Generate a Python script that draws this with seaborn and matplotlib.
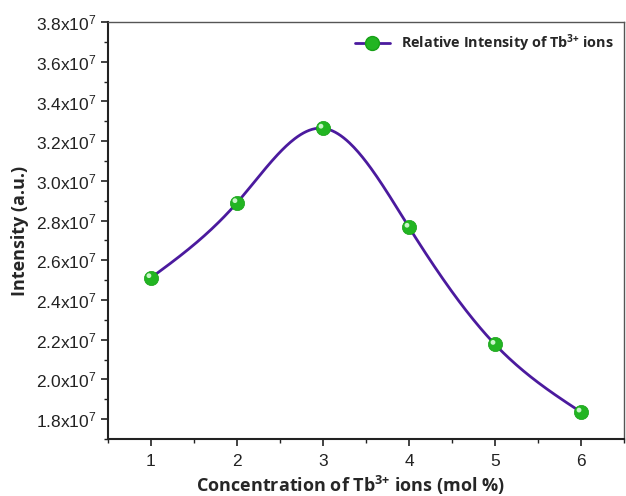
import numpy as np
import pandas as pd
import matplotlib
matplotlib.use("Agg")
import matplotlib.pyplot as plt
import matplotlib.transforms as mtransforms
from matplotlib.lines import Line2D
from matplotlib.ticker import FixedLocator, MultipleLocator, FuncFormatter
import seaborn as sns

# ---- data ----
concentration = [1, 2, 3, 4, 5, 6]
intensity = [2.512e7, 2.890e7, 3.265e7, 2.766e7, 2.176e7, 1.835e7]
y_ticks = [1.8e7, 2.0e7, 2.2e7, 2.4e7, 2.6e7, 2.8e7, 3.0e7, 3.2e7, 3.4e7, 3.6e7, 3.8e7]
x_ticks = [1, 2, 3, 4, 5, 6]
legend_label = "Relative Intensity of Tb$^{3{+}}$ ions"
x_label = "Concentration of Tb$^{3{+}}$ ions (mol %)"
y_label = "Intensity (a.u.)"

LINE_COLOR = "#4b1a9e"
MARKER_COLOR = "#22b522"


def natural_spline(x, y, n=300):
    x = np.asarray(x, float)
    y = np.asarray(y, float)
    m = len(x)
    h = np.diff(x)
    A = np.zeros((m, m))
    b = np.zeros(m)
    A[0, 0] = A[-1, -1] = 1
    for i in range(1, m - 1):
        A[i, i - 1] = h[i - 1]
        A[i, i] = 2 * (h[i - 1] + h[i])
        A[i, i + 1] = h[i]
        b[i] = 3 * ((y[i + 1] - y[i]) / h[i] - (y[i] - y[i - 1]) / h[i - 1])
    c = np.linalg.solve(A, b)
    xs = np.linspace(x[0], x[-1], n)
    ys = np.empty_like(xs)
    for k, xv in enumerate(xs):
        i = min(np.searchsorted(x, xv, side="right") - 1, m - 2)
        bi = (y[i + 1] - y[i]) / h[i] - h[i] * (2 * c[i] + c[i + 1]) / 3
        di = (c[i + 1] - c[i]) / (3 * h[i])
        dx = xv - x[i]
        ys[k] = y[i] + bi * dx + c[i] * dx ** 2 + di * dx ** 3
    return xs, ys


sns.set_theme(style="ticks")
plt.rcParams["font.family"] = ["Liberation Sans", "DejaVu Sans"]
plt.rcParams["mathtext.default"] = "regular"

fig = plt.figure(figsize=(6.26, 4.96), dpi=100)
ax = fig.add_axes([0.1725, 0.115, 0.8245, 0.8405])

xs, ys = natural_spline(concentration, intensity)
curve = pd.DataFrame({"x": xs, "y": ys})
pts = pd.DataFrame({"x": concentration, "y": intensity})

sns.lineplot(data=curve, x="x", y="y", ax=ax, color=LINE_COLOR, linewidth=2.0,
             zorder=2, legend=False)
sns.scatterplot(data=pts, x="x", y="y", ax=ax, color=MARKER_COLOR, s=105,
                edgecolor="#17a017", linewidth=0.5, zorder=3, legend=False)
# specular highlight on the spheres
hl = mtransforms.offset_copy(ax.transData, fig=fig, x=-1.5, y=1.5, units="points")
ax.scatter(pts["x"], pts["y"], s=12, color="#c8f5c8", edgecolor="none",
           zorder=4, transform=hl)

ax.set_xlim(0.5, 6.5)
ax.set_ylim(1.7e7, 3.8e7)
ax.xaxis.set_major_locator(FixedLocator(x_ticks))
ax.xaxis.set_minor_locator(MultipleLocator(0.5))
ax.yaxis.set_major_locator(FixedLocator(y_ticks))
ax.yaxis.set_minor_locator(MultipleLocator(0.1e7))


def yfmt(v, pos):
    return "%.1fx10$^{7}$" % (v / 1e7)


ax.yaxis.set_major_formatter(FuncFormatter(yfmt))
ax.set_xticklabels([str(t) for t in x_ticks])

ax.tick_params(axis="both", which="major", direction="out", length=5, width=1.2,
               labelsize=12.5, colors="#222222", labelcolor="#222222")
ax.tick_params(axis="both", which="minor", direction="out", length=3, width=1.0,
               colors="#222222")
ax.tick_params(axis="x", pad=6)

for side in ["left", "bottom"]:
    ax.spines[side].set_linewidth(1.5)
    ax.spines[side].set_color("#222222")
for side in ["top", "right"]:
    ax.spines[side].set_linewidth(1.0)
    ax.spines[side].set_color("#555555")

ax.set_xlabel(x_label, fontsize=13, fontweight="bold", family=["Open Sans", "DejaVu Sans"])
ax.xaxis.set_label_coords(0.469, -0.084)
ax.set_ylabel(y_label, fontsize=13, fontweight="bold", family=["Open Sans", "DejaVu Sans"],
              labelpad=5)

handle = Line2D([0], [0], color=LINE_COLOR, linewidth=2.0, marker="o",
                markersize=10, markerfacecolor=MARKER_COLOR,
                markeredgecolor="#17a017")
leg = ax.legend([handle], [legend_label], loc="upper right", frameon=False,
                prop={"family": ["Open Sans", "DejaVu Sans"], "weight": "bold", "size": 10.4},
                handlelength=2.4, borderaxespad=0.3)

fig.savefig("out.png", dpi=100)
